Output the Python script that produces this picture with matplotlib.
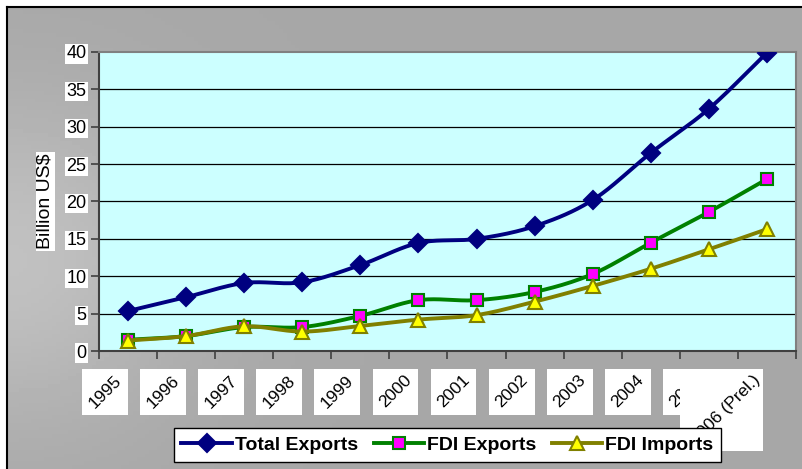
import numpy as np
import matplotlib
matplotlib.use("Agg")
import matplotlib.pyplot as plt
from matplotlib.patches import Rectangle
from matplotlib.lines import Line2D

plt.rcParams['font.family'] = ['Liberation Sans', 'DejaVu Sans']

years = ["1995", "1996", "1997", "1998", "1999", "2000", "2001", "2002",
         "2003", "2004", "2005", "2006 (Prel.)"]
total_exports = [5.35, 7.2, 9.1, 9.2, 11.5, 14.45, 15.0, 16.7, 20.2, 26.5, 32.4, 39.9]
fdi_exports = [1.5, 2.0, 3.2, 3.2, 4.7, 6.8, 6.8, 7.9, 10.3, 14.5, 18.6, 23.0]
fdi_imports = [1.4, 2.0, 3.3, 2.6, 3.35, 4.2, 4.8, 6.6, 8.7, 11.0, 13.6, 16.3]
yticks = [0, 5, 10, 15, 20, 25, 30, 35, 40]

W, H = 803, 469
fig = plt.figure(figsize=(W / 100, H / 100), dpi=100)
fig.patch.set_facecolor('white')

# background gradient panel
bg = fig.add_axes([0, 0, 1, 1], zorder=-10)
gx = np.linspace(0, 1, 200)
gy = np.linspace(0, 1, 120)
GX, GY = np.meshgrid(gx, gy)
val = 0.655 + 0.10 * np.exp(-((GX / 0.22) ** 2 + ((GY - 0.55) / 0.35) ** 2))
bg.imshow(val, cmap='gray', vmin=0, vmax=1, extent=[7 / W, 1.02, 0, 1 - 7 / H],
          aspect='auto', origin='upper')
bg.set_xlim(0, 1)
bg.set_ylim(0, 1)
bg.axis('off')
bg.plot([7 / W, 7 / W], [0, 1 - 7 / H], color='black', lw=1.5)
bg.plot([7 / W, 1], [1 - 7 / H, 1 - 7 / H], color='black', lw=1.5)

left, right, top, bottom = 99, 796, 52, 351
ax = fig.add_axes([left / W, (H - bottom) / H, (right - left) / W, (bottom - top) / H])
ax.set_facecolor('#ccffff')
n = len(years)
x = np.arange(n)
ax.set_xlim(-0.5, n - 0.5)
ax.set_ylim(0, 40)
ax.set_yticks(yticks)
for yv in yticks[1:-1]:
    ax.axhline(yv, color='black', lw=0.9, zorder=1)

for s in ['top', 'right']:
    ax.spines[s].set_color('#808080')
    ax.spines[s].set_linewidth(1.5)
for s in ['left', 'bottom']:
    ax.spines[s].set_color('#404040')
    ax.spines[s].set_linewidth(1.5)

ax.set_xticks(np.arange(n + 1) - 0.5)
ax.set_xticklabels([])
ax.tick_params(axis='x', length=6, width=1.2, color='#404040', direction='out')
ax.tick_params(axis='y', length=6, width=1.2, color='#404040', direction='out',
               labelsize=13, pad=3)
for lab in ax.get_yticklabels():
    lab.set_bbox(dict(facecolor='white', edgecolor='none', pad=0.8))

ax.set_ylabel('Billion US$', fontsize=14,
              bbox=dict(facecolor='white', edgecolor='none', pad=1))
ax.yaxis.set_label_coords((54 - left) / (right - left), 0.5)


def smooth(xs, ys, k=20, t=0.5):
    xs = np.asarray(xs, float)
    ys = np.asarray(ys, float)
    px = np.concatenate([[2 * xs[0] - xs[1]], xs, [2 * xs[-1] - xs[-2]]])
    py = np.concatenate([[2 * ys[0] - ys[1]], ys, [2 * ys[-1] - ys[-2]]])
    ox, oy = [], []
    for i in range(1, len(px) - 2):
        p0, p1, p2, p3 = (np.array([px[j], py[j]]) for j in range(i - 1, i + 3))
        c1 = p1 + (p2 - p0) * t / 3
        c2 = p2 - (p3 - p1) * t / 3
        u = np.linspace(0, 1, k)[:, None]
        b = ((1 - u) ** 3) * p1 + 3 * ((1 - u) ** 2) * u * c1 + 3 * (1 - u) * u ** 2 * c2 + u ** 3 * p2
        ox.extend(b[:, 0])
        oy.extend(b[:, 1])
    return ox, oy


series = [
    (total_exports, '#000080', 'D', '#000080', '#000080', 'Total Exports', 9),
    (fdi_exports, '#008000', 's', '#ff00ff', '#008000', 'FDI Exports', 9),
    (fdi_imports, '#808000', '^', '#ffff00', '#808000', 'FDI Imports', 10),
]
handles = []
for zi, (vals, lc, mk, mfc, mec, name, ms) in enumerate(series):
    sx, sy = smooth(x, vals)
    ax.plot(sx, sy, color=lc, lw=2.8, zorder=3 + zi, solid_capstyle='round')
    ax.plot(x, vals, linestyle='none', marker=mk, markersize=ms, markerfacecolor=mfc,
            markeredgecolor=mec, markeredgewidth=1.5, zorder=3.5 + zi)
    handles.append(Line2D([0], [0], color=lc, lw=2.8, marker=mk, markersize=ms,
                          markerfacecolor=mfc, markeredgecolor=mec, markeredgewidth=1.5))

# x tick labels rotated with axis-aligned white boxes
texts = []
for i, yr in enumerate(years):
    t = ax.text(i - 0.07, -2.9, yr, rotation=45, ha='right', va='top', fontsize=12.5,
                transform=ax.transData, clip_on=False, zorder=20 + 2 * i)
    texts.append(t)
fig.canvas.draw()
r = fig.canvas.get_renderer()
inv = ax.transData.inverted()
for i, t in enumerate(texts):
    bb = t.get_window_extent(renderer=r)
    pad = 4
    x0, y0 = bb.x0 - pad, bb.y0 - pad
    x1, y1 = bb.x1 + pad, bb.y1 + pad
    if i == n - 1:
        y0 = H - 451
        x0 = 680
        x1 = 763
    (dx0, dy0) = inv.transform((x0, y0))
    (dx1, dy1) = inv.transform((x1, y1))
    rect = Rectangle((dx0, dy0), dx1 - dx0, dy1 - dy0, facecolor='white',
                     edgecolor='none', clip_on=False, zorder=19 + 2 * i,
                     transform=ax.transData)
    ax.add_patch(rect)
    t.set_clip_path(rect)
    t.set_clip_on(True)

leg = fig.legend(handles, [s[5] for s in series], loc='center',
                 bbox_to_anchor=(447.5 / W, 1 - 445 / H), ncol=3,
                 prop={'weight': 'bold', 'size': 14}, frameon=True, fancybox=False,
                 edgecolor='black', facecolor='white', framealpha=1,
                 handlelength=2.6, handletextpad=0.15, columnspacing=0.8,
                 borderpad=0.4, borderaxespad=0)
leg.get_frame().set_linewidth(1.0)
leg.set_zorder(50)

fig.savefig('out.png', dpi=100, facecolor=fig.get_facecolor())
